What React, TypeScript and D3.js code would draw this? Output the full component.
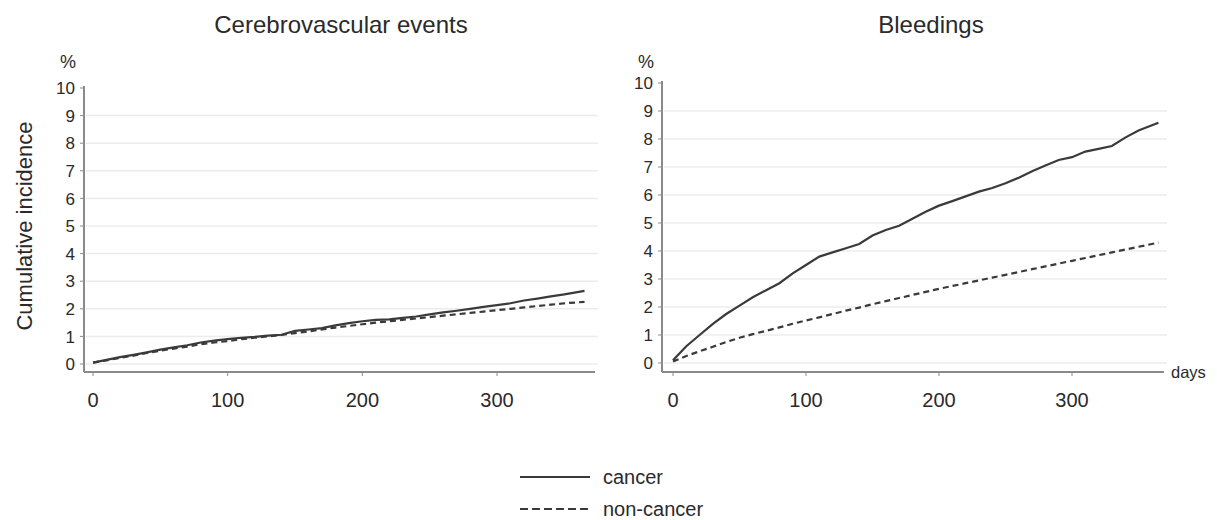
import React from "react";
import * as d3 from "d3";

const days = [0, 10, 20, 30, 40, 50, 60, 70, 80, 90, 100, 110, 120, 130, 140, 150, 160, 170, 180, 190, 200, 210, 220, 230, 240, 250, 260, 270, 280, 290, 300, 310, 320, 330, 340, 350, 365];

const cereCancer = [0.05, 0.15, 0.25, 0.33, 0.42, 0.52, 0.6, 0.68, 0.78, 0.85, 0.9, 0.95, 0.98, 1.03, 1.06, 1.2, 1.25, 1.3, 1.4, 1.48, 1.55, 1.6, 1.62, 1.67, 1.72, 1.8, 1.87, 1.93, 2.0, 2.07, 2.13, 2.2, 2.3, 2.37, 2.45, 2.52, 2.65];
const cereNonCancer = [0.05, 0.13, 0.22, 0.3, 0.4, 0.48, 0.56, 0.63, 0.72, 0.78, 0.83, 0.9, 0.95, 1.0, 1.05, 1.12, 1.18, 1.25, 1.32, 1.38, 1.44, 1.5, 1.55, 1.6, 1.65, 1.7, 1.75, 1.8, 1.85, 1.9, 1.95, 2.0, 2.05, 2.1, 2.15, 2.2, 2.25];

const bleedCancer = [0.1, 0.6, 1.0, 1.4, 1.75, 2.05, 2.35, 2.6, 2.85, 3.2, 3.5, 3.8, 3.95, 4.1, 4.25, 4.55, 4.75, 4.9, 5.15, 5.4, 5.62, 5.78, 5.95, 6.12, 6.25, 6.42, 6.62, 6.85, 7.05, 7.25, 7.35, 7.55, 7.65, 7.75, 8.05, 8.3, 8.58];
const bleedNonCancer = [0.05, 0.25, 0.42, 0.58, 0.75, 0.9, 1.03, 1.15, 1.27, 1.4, 1.52, 1.63, 1.75, 1.87, 1.98, 2.1, 2.21, 2.32, 2.43, 2.54, 2.65, 2.75, 2.85, 2.95, 3.05, 3.15, 3.25, 3.35, 3.45, 3.55, 3.65, 3.75, 3.85, 3.95, 4.05, 4.15, 4.3];

const yTicks = [0, 1, 2, 3, 4, 5, 6, 7, 8, 9, 10];
const xTicks = [0, 100, 200, 300];
const seriesNames = ["cancer", "non-cancer"];

const FONT = "Liberation Sans, Arial, Helvetica, sans-serif";
const LINE = "#3a3a3a";
const AXIS = "#8a8a8a";
const TEXT = "#2a2a2a";

type PanelProps = {
  title: string;
  titleX: number;
  cancer: number[];
  nonCancer: number[];
  axisX: number;
  x0: number;
  x300: number;
  y0: number;
  y10: number;
  axisY: number;
  right: number;
  showDays?: boolean;
};

function Panel(p: PanelProps) {
  const x = d3.scaleLinear().domain([0, 300]).range([p.x0, p.x300]);
  const y = d3.scaleLinear().domain([0, 10]).range([p.y0, p.y10]);
  const line = d3
    .line<[number, number]>()
    .x((d) => x(d[0]))
    .y((d) => y(d[1]))
    .curve(d3.curveLinear);
  const cData = days.map((d, i) => [d, p.cancer[i]] as [number, number]);
  const nData = days.map((d, i) => [d, p.nonCancer[i]] as [number, number]);
  return (
    <g fontFamily={FONT} fill={TEXT}>
      <text x={p.titleX} y={33} textAnchor="middle" fontSize={24}>
        {p.title}
      </text>
      <text x={p.axisX - 8} y={68} textAnchor="end" fontSize={18}>
        %
      </text>
      {yTicks.filter((t) => t < 10).map((t) => (
        <line key={"g" + t} x1={p.axisX + 2} x2={p.right} y1={y(t)} y2={y(t)} stroke="#ececec" strokeWidth={1.5} />
      ))}
      {yTicks.map((t) => (
        <g key={"y" + t}>
          <line x1={p.axisX - 4} x2={p.axisX} y1={y(t)} y2={y(t)} stroke={AXIS} strokeWidth={1} />
          <text x={p.axisX - 9} y={y(t)} dy="0.36em" textAnchor="end" fontSize={17}>
            {t}
          </text>
        </g>
      ))}
      <line x1={p.axisX} x2={p.axisX} y1={y(10) - 2} y2={p.axisY} stroke={AXIS} strokeWidth={2} />
      <line x1={p.axisX} x2={p.right - 3} y1={p.axisY} y2={p.axisY} stroke={AXIS} strokeWidth={2} />
      {xTicks.map((t) => (
        <g key={"x" + t}>
          <line x1={x(t)} x2={x(t)} y1={p.axisY} y2={p.axisY + 4} stroke={AXIS} strokeWidth={1} />
          <text x={x(t)} y={p.axisY + 35} textAnchor="middle" fontSize={20}>
            {t}
          </text>
        </g>
      ))}
      {p.showDays && (
        <text x={p.right + 4} y={p.axisY + 6} fontSize={16.5}>
          days
        </text>
      )}
      <path d={line(nData) || ""} fill="none" stroke={LINE} strokeWidth={2.2} strokeDasharray="6 4" />
      <path d={line(cData) || ""} fill="none" stroke={LINE} strokeWidth={2.2} />
    </g>
  );
}

export default function App() {
  return (
    <svg width={1217} height={520} style={{ display: "block", margin: "-8px 0 0 -8px", background: "#fff" }}>
      <rect width={1217} height={520} fill="#fff" />
      <Panel
        title="Cerebrovascular events"
        titleX={341}
        cancer={cereCancer}
        nonCancer={cereNonCancer}
        axisX={84}
        x0={93}
        x300={497}
        y0={364}
        y10={88}
        axisY={372}
        right={598}
      />
      <Panel
        title="Bleedings"
        titleX={931}
        cancer={bleedCancer}
        nonCancer={bleedNonCancer}
        axisX={662}
        x0={673}
        x300={1072}
        y0={363}
        y10={83}
        axisY={372}
        right={1167}
        showDays
      />
      <text
        transform="translate(32,226) rotate(-90)"
        textAnchor="middle"
        fontSize={22}
        fontFamily={FONT}
        fill={TEXT}
      >
        Cumulative incidence
      </text>
      <g fontFamily={FONT} fill={TEXT} fontSize={20}>
        <line x1={520} x2={590} y1={477} y2={477} stroke={LINE} strokeWidth={2.2} />
        <text x={603} y={484}>{seriesNames[0]}</text>
        <line x1={520} x2={590} y1={509} y2={509} stroke={LINE} strokeWidth={2.2} strokeDasharray="8 4" />
        <text x={603} y={516}>{seriesNames[1]}</text>
      </g>
    </svg>
  );
}
